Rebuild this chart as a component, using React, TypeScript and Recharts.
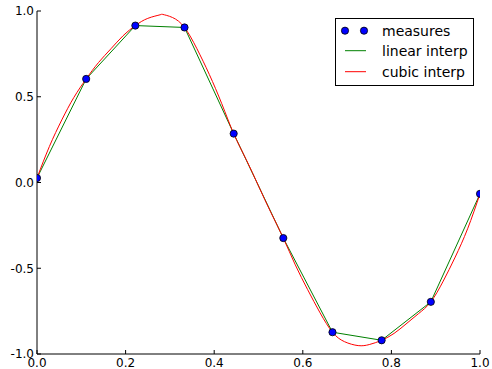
import React from "react";
import { ComposedChart, Line, Scatter, XAxis, YAxis } from "recharts";

// measured samples
const measureX = [0, 0.111, 0.222, 0.333, 0.444, 0.556, 0.667, 0.778, 0.889, 1.0];
const measureY = [0.026, 0.604, 0.915, 0.904, 0.285, -0.324, -0.873, -0.92, -0.696, -0.066];

// cubic interpolation curve
const cubicX = [
  0, 0.028, 0.056, 0.083, 0.111, 0.139, 0.167, 0.194, 0.222, 0.25, 0.278, 0.284,
  0.306, 0.333, 0.361, 0.389, 0.417, 0.444, 0.472, 0.5, 0.528, 0.556, 0.583,
  0.611, 0.639, 0.667, 0.694, 0.725, 0.75, 0.778, 0.806, 0.833, 0.861, 0.889,
  0.917, 0.944, 0.972, 1.0,
];
const cubicY = [
  0.026, 0.21, 0.365, 0.495, 0.604, 0.7, 0.78, 0.855, 0.915, 0.957, 0.978, 0.98,
  0.962, 0.904, 0.78, 0.63, 0.46, 0.285, 0.135, -0.02, -0.175, -0.324, -0.48,
  -0.625, -0.76, -0.873, -0.928, -0.951, -0.945, -0.92, -0.88, -0.825, -0.765,
  -0.696, -0.575, -0.435, -0.27, -0.066,
];

const xTicks = [0, 0.2, 0.4, 0.6, 0.8, 1.0];
const yTicks = [-1.0, -0.5, 0, 0.5, 1.0];
const legendLabels = ["measures", "linear interp", "cubic interp"];

const measures = measureX.map((x, i) => ({ x, y: measureY[i] }));
const cubic = cubicX.map((x, i) => ({ x, y: cubicY[i] }));

const FONT = "DejaVu Sans, sans-serif";
const tickStyle = { fill: "#000", fontSize: 12, fontFamily: FONT };

const Dot = (props: any) => (
  <circle cx={props.cx} cy={props.cy} r={3.6} fill="#0000ff" stroke="#000" strokeWidth={0.8} />
);

const NoLabel = () => null;

function LegendBox() {
  const rows = [12.7, 32.7, 53.7];
  return (
    <svg width={139} height={68} style={{ display: "block" }}>
      <rect x={0.5} y={0.5} width={138} height={67} fill="#fff" stroke="#000" strokeWidth={1} />
      <circle cx={10} cy={rows[0]} r={3.6} fill="#0000ff" stroke="#000" strokeWidth={0.8} />
      <circle cx={29} cy={rows[0]} r={3.6} fill="#0000ff" stroke="#000" strokeWidth={0.8} />
      <line x1={10} x2={31} y1={rows[1]} y2={rows[1]} stroke="#008000" strokeWidth={1} />
      <line x1={10} x2={31} y1={rows[2]} y2={rows[2]} stroke="#ff0000" strokeWidth={1} />
      {legendLabels.map((t, i) => (
        <text key={t} x={47} y={rows[i] + 5} fontSize={14} fontFamily={FONT} fill="#000">
          {t}
        </text>
      ))}
    </svg>
  );
}

export default function App() {
  return (
    <div style={{ position: "fixed", left: 0, top: 0, width: 492, height: 369, background: "#fff" }}>
      <ComposedChart
        width={492}
        height={369}
        margin={{ top: 11, right: 12, bottom: 0, left: 0 }}
      >
        <XAxis
          xAxisId="bottom"
          dataKey="x"
          type="number"
          domain={[0, 1]}
          ticks={xTicks}
          tickFormatter={(v: number) => v.toFixed(1)}
          height={15}
          tickSize={-4}
          tickMargin={8.5}
          tick={tickStyle}
          stroke="#000"
          allowDataOverflow
        />
        <XAxis
          xAxisId="top"
          orientation="top"
          dataKey="x"
          type="number"
          domain={[0, 1]}
          ticks={xTicks}
          height={0}
          tickSize={-4}
          tick={NoLabel}
          stroke="#000"
        />
        <YAxis
          yAxisId="left"
          dataKey="y"
          type="number"
          domain={[-1, 1]}
          ticks={yTicks}
          tickFormatter={(v: number) => v.toFixed(1)}
          width={37}
          tickSize={-4}
          tickMargin={7}
          tick={tickStyle}
          stroke="#000"
          allowDataOverflow
        />
        <YAxis
          yAxisId="right"
          orientation="right"
          dataKey="y"
          type="number"
          domain={[-1, 1]}
          ticks={yTicks}
          width={0}
          tickSize={-4}
          tick={NoLabel}
          stroke="#000"
        />
        <Line
          xAxisId="bottom"
          yAxisId="left"
          data={measures}
          dataKey="y"
          type="linear"
          stroke="#008000"
          strokeWidth={1}
          dot={false}
          isAnimationActive={false}
        />
        <Line
          xAxisId="bottom"
          yAxisId="left"
          data={cubic}
          dataKey="y"
          type="natural"
          stroke="#ff0000"
          strokeWidth={1}
          dot={false}
          isAnimationActive={false}
        />
        <Scatter
          xAxisId="bottom"
          yAxisId="left"
          data={measures}
          dataKey="y"
          shape={<Dot />}
          isAnimationActive={false}
        />
      </ComposedChart>
      <div style={{ position: "absolute", left: 335, top: 18 }}>
        <LegendBox />
      </div>
    </div>
  );
}
